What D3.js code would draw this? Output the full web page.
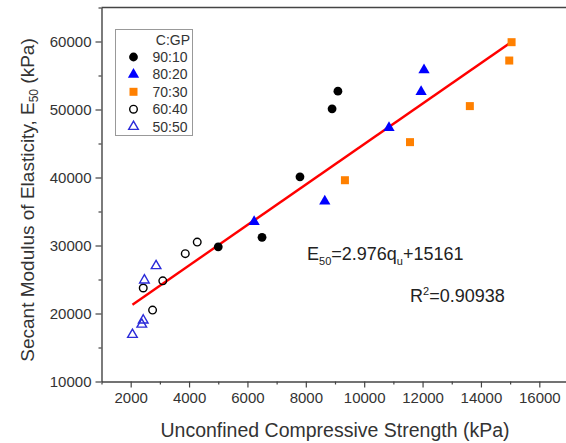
<!DOCTYPE html>
<html><head><meta charset="utf-8">
<script src="https://cdn.jsdelivr.net/npm/d3@7"></script>
<style>
body{margin:0;background:#fff}
text{font-family:"Liberation Sans",Arial,Helvetica,sans-serif}
</style>
</head><body>
<svg id="chart" width="566" height="443"></svg>
<script>
// Cement : geopolymer mix ratios
const ratios = ["90:10", "80:20", "70:30", "60:40", "50:50"];
// Unconfined compressive strength qu (kPa) per mix
const qu9010 = [5000, 6500, 7800, 8900, 9100];
const qu8020 = [6230, 8650, 10850, 11950, 12050];
const qu7030 = [9340, 11570, 13620, 14970, 15050];
const qu6040 = [2430, 2750, 3100, 3870, 4280];
const qu5050 = [2060, 2380, 2430, 2470, 2870];
// Secant modulus E50 (kPa) per mix
const e9010 = [29800, 31200, 40100, 50100, 52700];
const e8020 = [33500, 36500, 47300, 52600, 55800];
const e7030 = [39600, 45200, 50500, 57200, 59900];
const e6040 = [23750, 20500, 24800, 28800, 30500];
const e5050 = [16900, 18400, 19000, 24900, 27000];
// Linear fit E50 = a*qu + b
const fitSlope = 2.976;
const fitIntercept = 15161;
const fitR2 = "0.90938";
const xTicks = [2000, 4000, 6000, 8000, 10000, 12000, 14000, 16000];
const yTicks = [10000, 20000, 30000, 40000, 50000, 60000];

const series = [
  {name: ratios[0], qu: qu9010, e: e9010, shape: "circle", fill: "#000", stroke: "none"},
  {name: ratios[1], qu: qu8020, e: e8020, shape: "triangle", fill: "#0000ff", stroke: "none"},
  {name: ratios[2], qu: qu7030, e: e7030, shape: "square", fill: "#ff8000", stroke: "none"},
  {name: ratios[3], qu: qu6040, e: e6040, shape: "circle", fill: "none", stroke: "#000"},
  {name: ratios[4], qu: qu5050, e: e5050, shape: "triangle", fill: "none", stroke: "#2b2bd9"}
];

const svg = d3.select("#chart");
const x = d3.scaleLinear().domain([1000, 17000]).range([101.5, 568.5]);
const y = d3.scaleLinear().domain([10000, 65000]).range([381.5, 7.5]);
const axisColor = "#444";
const labelColor = "#333";

// frame: top edge and right edge
svg.append("line").attr("x1", x(1000)).attr("x2", x(17000)).attr("y1", y(65000)).attr("y2", y(65000))
  .attr("stroke", axisColor).attr("stroke-width", 1.4);
svg.append("line").attr("x1", x(17000)).attr("x2", x(17000)).attr("y1", y(65000)).attr("y2", y(10000))
  .attr("stroke", axisColor).attr("stroke-width", 1.4);

function styleAxis(g) {
  g.select(".domain").attr("stroke", axisColor).attr("stroke-width", 1.4);
  g.selectAll(".tick line").attr("stroke", axisColor).attr("stroke-width", 1.2);
  g.selectAll(".tick text").attr("fill", labelColor).attr("font-size", 15)
    .attr("font-family", "'Liberation Sans', Arial, sans-serif");
}

// minor ticks
const xMinor = d3.range(1000, 17001, 2000);
const yMinor = d3.range(15000, 65001, 10000);
svg.append("g").attr("transform", `translate(0,${y(10000)})`)
  .call(d3.axisBottom(x).tickValues(xMinor).tickSize(3).tickFormat(""))
  .call(g => { g.select(".domain").remove(); g.selectAll("line").attr("stroke", axisColor).attr("stroke-width", 1.2); });
svg.append("g").attr("transform", `translate(${x(1000)},0)`)
  .call(d3.axisLeft(y).tickValues(yMinor).tickSize(3).tickFormat(""))
  .call(g => { g.select(".domain").remove(); g.selectAll("line").attr("stroke", axisColor).attr("stroke-width", 1.2); });

// major axes
svg.append("g").attr("transform", `translate(0,${y(10000)})`)
  .call(d3.axisBottom(x).tickValues(xTicks).tickSize(6).tickSizeOuter(0).tickPadding(5).tickFormat(d3.format("d")))
  .call(styleAxis);
svg.append("g").attr("transform", `translate(${x(1000)},0)`)
  .call(d3.axisLeft(y).tickValues(yTicks).tickSize(6).tickSizeOuter(0).tickPadding(4).tickFormat(d3.format("d")))
  .call(styleAxis);

// axis titles
svg.append("text").attr("x", 335).attr("y", 437).attr("text-anchor", "middle")
  .attr("font-size", 19.5).attr("fill", labelColor).text("Unconfined Compressive Strength (kPa)");
const yt = svg.append("text").attr("transform", "translate(34,200) rotate(-90)")
  .attr("text-anchor", "middle").attr("font-size", 19).attr("fill", labelColor);
yt.append("tspan").text("Secant Modulus of Elasticity, E");
yt.append("tspan").attr("font-size", 12).attr("dy", 4).text("50");
yt.append("tspan").attr("dy", -4).text(" (kPa)");

// regression line over the data range
const allQu = series.flatMap(s => s.qu);
const [qMin, qMax] = d3.extent(allQu);
svg.append("line")
  .attr("x1", x(qMin)).attr("y1", y(fitSlope * qMin + fitIntercept))
  .attr("x2", x(qMax)).attr("y2", y(fitSlope * qMax + fitIntercept))
  .attr("stroke", "#ff0000").attr("stroke-width", 2.4);

// marker drawing
function drawMarker(g, s, cx, cy) {
  if (s.shape === "circle") {
    g.append("circle").attr("cx", cx).attr("cy", cy)
      .attr("r", s.fill === "none" ? 3.8 : 4.4)
      .attr("fill", s.fill).attr("stroke", s.stroke).attr("stroke-width", 1.4);
  } else if (s.shape === "square") {
    g.append("rect").attr("x", cx - 4).attr("y", cy - 4).attr("width", 8).attr("height", 8)
      .attr("fill", s.fill);
  } else {
    g.append("path").attr("transform", `translate(${cx},${cy})`)
      .attr("d", d3.symbol(d3.symbolTriangle, s.fill === "none" ? 40 : 55)())
      .attr("fill", s.fill).attr("stroke", s.stroke).attr("stroke-width", 1.4);
  }
}

const pts = svg.append("g");
series.forEach(s => {
  s.qu.forEach((q, i) => drawMarker(pts, s, x(q), y(s.e[i])));
});

// equation labels
const eq = svg.append("text").attr("x", 307).attr("y", 260).attr("font-size", 18).attr("fill", "#222");
eq.append("tspan").text("E");
eq.append("tspan").attr("font-size", 11).attr("dy", 5).text("50");
eq.append("tspan").attr("dy", -5).text("=" + fitSlope + "q");
eq.append("tspan").attr("font-size", 11).attr("dy", 5).text("u");
eq.append("tspan").attr("dy", -5).text("+" + fitIntercept);

const r2 = svg.append("text").attr("x", 410).attr("y", 302).attr("font-size", 18).attr("fill", "#222");
r2.append("tspan").text("R");
r2.append("tspan").attr("font-size", 11).attr("dy", -7).text("2");
r2.append("tspan").attr("dy", 7).text("=" + fitR2);

// legend
const lg = svg.append("g");
lg.append("rect").attr("x", 115.5).attr("y", 29.5).attr("width", 77).attr("height", 106)
  .attr("fill", "#fff").attr("stroke", "#999").attr("stroke-width", 1);
lg.append("text").attr("x", 190).attr("y", 45).attr("text-anchor", "end")
  .attr("font-size", 14).attr("fill", labelColor).text("C:GP");
series.forEach((s, i) => {
  const cy = 57 + i * 17.4;
  drawMarker(lg, s, 133.5, cy);
  lg.append("text").attr("x", 152.5).attr("y", cy + 5).attr("font-size", 14)
    .attr("fill", labelColor).text(s.name);
});
</script>
</body></html>
